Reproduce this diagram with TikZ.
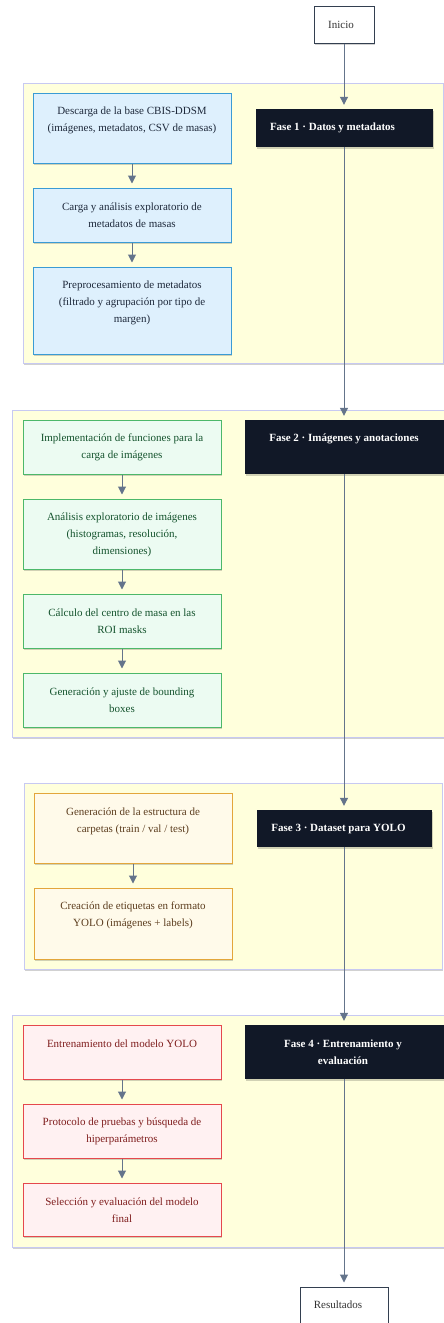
\documentclass[tikz,border=0pt]{standalone}
\usepackage{fontspec}
\setmainfont{Liberation Serif}
\usetikzlibrary{arrows.meta,shadows}
\definecolor{framefill}{HTML}{FFFFDC}
\definecolor{framedraw}{HTML}{C7C9F2}
\definecolor{bluefill}{HTML}{DEF0FD}
\definecolor{bluedraw}{HTML}{3A9BD5}
\definecolor{bluetext}{HTML}{1E293B}
\definecolor{greenfill}{HTML}{ECFBF2}
\definecolor{greendraw}{HTML}{4CB86A}
\definecolor{greentext}{HTML}{14532D}
\definecolor{orangefill}{HTML}{FFFAEA}
\definecolor{orangedraw}{HTML}{E3A63B}
\definecolor{orangetext}{HTML}{5C3D1E}
\definecolor{redfill}{HTML}{FFF1F2}
\definecolor{reddraw}{HTML}{E5484D}
\definecolor{redtext}{HTML}{7F1D1D}
\definecolor{darkbox}{HTML}{111827}
\definecolor{slate}{HTML}{64748B}
\definecolor{termdraw}{HTML}{333F50}
\definecolor{termtext}{HTML}{333333}
\begin{document}
\begin{tikzpicture}[x=1pt,y=-1pt,
  shad/.style={drop shadow={shadow xshift=1pt,shadow yshift=-1.5pt,opacity=0.18,fill=black}},
  frame/.style={shad,draw=framedraw,fill=framefill,line width=1pt,inner sep=0,minimum width=#1},
  card/.style={shad,line width=1pt,inner sep=0,minimum width=198},
  bluebox/.style={card,draw=bluedraw,fill=bluefill},
  greenbox/.style={card,draw=greendraw,fill=greenfill},
  orangebox/.style={card,draw=orangedraw,fill=orangefill},
  redbox/.style={card,draw=reddraw,fill=redfill},
  phasebox/.style={shad,fill=darkbox,inner sep=0},
  term/.style={shad,draw=termdraw,fill=white,line width=1pt,inner sep=0},
  txt/.style={align=center,inner sep=0,font=\fontsize{11}{17}\selectfont},
  phasetxt/.style={txt,text=white,font=\fontsize{11}{17}\selectfont\bfseries},
  arr/.style={draw=slate,line width=1pt,-{Triangle[width=8pt,length=8pt]},shorten >=4pt}
]
\useasboundingbox (0,0) rectangle (444,1323);
\clip (0,0) rectangle (444,1323);

% frames
\node[frame=420,minimum height=280] (p1) at (233,223) {};
\node[frame=448,minimum height=327] (p2) at (236,573.5) {};
\node[frame=418,minimum height=186] (p3) at (233,876) {};
\node[frame=448,minimum height=232] (p4) at (236,1131) {};

% terminals
\node[term,minimum width=60,minimum height=37] (ini) at (344,24.5) {};
\node[txt,text=termtext] (init) at (341,25) {Inicio};
\node[term,minimum width=88,minimum height=60] (res) at (344,1317) {};
\node[txt,text=termtext] (rest) at (338,1305) {Resultados};

% phase boxes
\node[phasebox,minimum width=177,minimum height=38] (f1) at (344.5,128) {};
\node[phasetxt] (f1t) at (332.5,128) {Fase 1 · Datos y metadatos};
\node[phasebox,minimum width=215,minimum height=54] (f2) at (352.5,447) {};
\node[phasetxt] (f2t) at (344,439) {Fase 2 · Imágenes y anotaciones};
\node[phasebox,minimum width=175,minimum height=37] (f3) at (344.5,828.5) {};
\node[phasetxt] (f3t) at (338.5,829) {Fase 3 · Dataset para YOLO};
\node[phasebox,minimum width=215,minimum height=54] (f4) at (352.5,1052) {};
\node[phasetxt] (f4t) at (343,1052.5) {Fase 4 · Entrenamiento y\\evaluación};

% phase 1
\node[bluebox,minimum height=70] (b1) at (132,128) {};
\node[txt,text=bluetext] (b1t) at (132,120.5) {Descarga de la base CBIS-DDSM\\(imágenes, metadatos, CSV de masas)};
\node[bluebox,minimum height=54] (b2) at (132,215) {};
\node[txt,text=bluetext] (b2t) at (132,215.5) {Carga y análisis exploratorio de\\metadatos de masas};
\node[bluebox,minimum height=87] (b3) at (132,310.5) {};
\node[txt,text=bluetext] (b3t) at (132,303) {Preprocesamiento de metadatos\\(filtrado y agrupación por tipo de\\margen)};

% phase 2
\node[greenbox,minimum height=54] (g1) at (122,447) {};
\node[txt,text=greentext] (g1t) at (122,447.5) {Implementación de funciones para la\\carga de imágenes};
\node[greenbox,minimum height=70] (g2) at (122,534) {};
\node[txt,text=greentext] (g2t) at (122,534.5) {Análisis exploratorio de imágenes\\(histogramas, resolución,\\dimensiones)};
\node[greenbox,minimum height=54] (g3) at (122,621) {};
\node[txt,text=greentext] (g3t) at (122,621.5) {Cálculo del centro de masa en las\\ROI masks};
\node[greenbox,minimum height=54] (g4) at (122,700) {};
\node[txt,text=greentext] (g4t) at (122,700.5) {Generación y ajuste de bounding\\boxes};

% phase 3
\node[orangebox,minimum height=70] (o1) at (133,828) {};
\node[txt,text=orangetext] (o1t) at (133,821.5) {Generación de la estructura de\\carpetas (train / val / test)};
\node[orangebox,minimum height=71] (o2) at (133,923.5) {};
\node[txt,text=orangetext] (o2t) at (133,915.5) {Creación de etiquetas en formato\\YOLO (imágenes + labels)};

% phase 4
\node[redbox,minimum height=54] (r1) at (122,1052) {};
\node[txt,text=redtext] (r1t) at (122,1044) {Entrenamiento del modelo YOLO};
\node[redbox,minimum height=54] (r2) at (122,1131) {};
\node[txt,text=redtext] (r2t) at (122,1131.5) {Protocolo de pruebas y búsqueda de\\hiperparámetros};
\node[redbox,minimum height=53] (r3) at (122,1209.5) {};
\node[txt,text=redtext] (r3t) at (122,1210) {Selección y evaluación del modelo\\final};

% main line
\draw[arr] (ini.south) -- (f1.north -| ini.south);
\draw[arr] (f1.south -| ini.south) -- (f2.north -| ini.south);
\draw[arr] (f2.south -| ini.south) -- (f3.north -| ini.south);
\draw[arr] (f3.south -| ini.south) -- (f4.north -| ini.south);
\draw[arr] (f4.south -| ini.south) -- (res.north);

% inner arrows
\draw[arr] (b1) -- (b2);
\draw[arr] (b2) -- (b3);
\draw[arr] (g1) -- (g2);
\draw[arr] (g2) -- (g3);
\draw[arr] (g3) -- (g4);
\draw[arr] (o1) -- (o2);
\draw[arr] (r1) -- (r2);
\draw[arr] (r2) -- (r3);
\end{tikzpicture}
\end{document}
